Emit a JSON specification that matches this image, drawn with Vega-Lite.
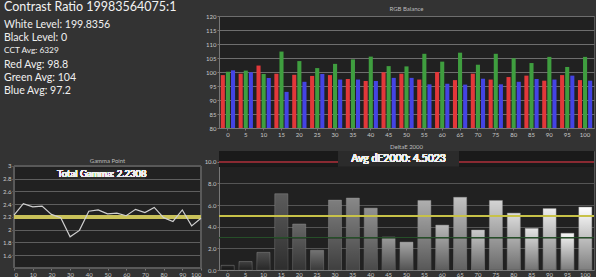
{
  "$schema": "https://vega.github.io/schema/vega-lite/v6.json",
  "background": "#333333",
  "padding": {"left": 2, "top": 0, "right": 0, "bottom": 0},
  "config": {
    "font": "Lato",
    "view": {"fill": "#212121", "stroke": "#555555"},
    "axis": {"labelFontSize": 6, "labelColor": "#c8c8c8", "domainColor": "#777777", "tickColor": "#777777", "gridColor": "#5e5e5e", "tickSize": 2, "labelPadding": 1, "labelOverlap": false},
    "title": {"fontSize": 6, "color": "#bbbbbb", "fontWeight": "normal", "offset": 2}
  },
  "bounds": "flush",
  "columns": 2,
  "spacing": {"row": 23, "column": 18},
  "concat": [
    {
      "width": 187,
      "height": 112,
      "view": {"fill": null, "stroke": null},
      "title": {"text": "Contrast Ratio 19983564075:1", "anchor": "start", "frame": "group", "dx": -10, "fontSize": 12.5, "color": "#f2f2f2", "offset": 3},
      "data": {"values": [
        {"line": 2, "label": "White Level: 199.8356"},
        {"line": 3, "label": "Black Level: 0"},
        {"line": 4, "label": "CCT Avg: 6329"},
        {"line": 5, "label": "Red Avg: 98.8"},
        {"line": 6, "label": "Green Avg: 104"},
        {"line": 7, "label": "Blue Avg: 97.2"}
      ]},
      "mark": {"type": "text", "align": "left", "baseline": "middle", "color": "#f0f0f0", "dx": -10},
      "encoding": {
        "x": {"datum": 0, "scale": {"domain": [0, 1]}, "axis": null},
        "y": {"field": "line", "type": "quantitative", "scale": {"domain": [1.32, 9.8], "reverse": true, "zero": false, "nice": false}, "axis": null},
        "text": {"field": "label"},
        "size": {"condition": {"test": "datum.line == 4", "value": 8.3}, "value": 10.6}
      }
    },
    {
      "width": 375,
      "height": 112,
      "title": {"text": "RGB Balance", "offset": 1},
      "data": {"values": [
        {"level": 0, "channel": "Red", "value": 98.9}, {"level": 0, "channel": "Green", "value": 100.1}, {"level": 0, "channel": "Blue", "value": 100.6},
        {"level": 5, "channel": "Red", "value": 99.4}, {"level": 5, "channel": "Green", "value": 100.5}, {"level": 5, "channel": "Blue", "value": 99.9},
        {"level": 10, "channel": "Red", "value": 102.3}, {"level": 10, "channel": "Green", "value": 99.3}, {"level": 10, "channel": "Blue", "value": 97.9},
        {"level": 15, "channel": "Red", "value": 99.4}, {"level": 15, "channel": "Green", "value": 107.3}, {"level": 15, "channel": "Blue", "value": 92.9},
        {"level": 20, "channel": "Red", "value": 99.0}, {"level": 20, "channel": "Green", "value": 103.9}, {"level": 20, "channel": "Blue", "value": 96.5},
        {"level": 25, "channel": "Red", "value": 98.6}, {"level": 25, "channel": "Green", "value": 101.4}, {"level": 25, "channel": "Blue", "value": 99.3},
        {"level": 30, "channel": "Red", "value": 98.9}, {"level": 30, "channel": "Green", "value": 102.9}, {"level": 30, "channel": "Blue", "value": 97.3},
        {"level": 35, "channel": "Red", "value": 97.5}, {"level": 35, "channel": "Green", "value": 104.5}, {"level": 35, "channel": "Blue", "value": 97.3},
        {"level": 40, "channel": "Red", "value": 96.8}, {"level": 40, "channel": "Green", "value": 105.5}, {"level": 40, "channel": "Blue", "value": 96.8},
        {"level": 45, "channel": "Red", "value": 99.9}, {"level": 45, "channel": "Green", "value": 102.1}, {"level": 45, "channel": "Blue", "value": 97.9},
        {"level": 50, "channel": "Red", "value": 99.4}, {"level": 50, "channel": "Green", "value": 102.0}, {"level": 50, "channel": "Blue", "value": 97.9},
        {"level": 55, "channel": "Red", "value": 97.3}, {"level": 55, "channel": "Green", "value": 106.5}, {"level": 55, "channel": "Blue", "value": 95.6},
        {"level": 60, "channel": "Red", "value": 100.0}, {"level": 60, "channel": "Green", "value": 103.7}, {"level": 60, "channel": "Blue", "value": 95.8},
        {"level": 65, "channel": "Red", "value": 97.1}, {"level": 65, "channel": "Green", "value": 106.9}, {"level": 65, "channel": "Blue", "value": 95.5},
        {"level": 70, "channel": "Red", "value": 99.4}, {"level": 70, "channel": "Green", "value": 102.6}, {"level": 70, "channel": "Blue", "value": 97.6},
        {"level": 75, "channel": "Red", "value": 97.3}, {"level": 75, "channel": "Green", "value": 106.5}, {"level": 75, "channel": "Blue", "value": 95.6},
        {"level": 80, "channel": "Red", "value": 98.2}, {"level": 80, "channel": "Green", "value": 104.9}, {"level": 80, "channel": "Blue", "value": 96.5},
        {"level": 85, "channel": "Red", "value": 98.7}, {"level": 85, "channel": "Green", "value": 103.2}, {"level": 85, "channel": "Blue", "value": 97.5},
        {"level": 90, "channel": "Red", "value": 96.9}, {"level": 90, "channel": "Green", "value": 105.4}, {"level": 90, "channel": "Blue", "value": 97.3},
        {"level": 95, "channel": "Red", "value": 98.9}, {"level": 95, "channel": "Green", "value": 101.8}, {"level": 95, "channel": "Blue", "value": 98.7},
        {"level": 100, "channel": "Red", "value": 97.1}, {"level": 100, "channel": "Green", "value": 105.4}, {"level": 100, "channel": "Blue", "value": 96.9}
      ]},
      "mark": {"type": "bar"},
      "encoding": {
        "x": {"field": "level", "type": "ordinal", "scale": {"paddingInner": 0.2, "paddingOuter": 0.1}, "axis": {"labelAngle": 0, "title": null}},
        "xOffset": {"field": "channel", "sort": ["Red", "Green", "Blue"], "scale": {"paddingInner": 0.2}},
        "y": {"field": "value", "type": "quantitative", "scale": {"domain": [80, 120], "zero": false, "nice": false}, "axis": {"values": [80, 85, 90, 95, 100, 105, 110, 115, 120], "title": null, "grid": true, "gridColor": "#6e6e6e"}},
        "y2": {"datum": 80},
        "color": {"field": "channel", "scale": {"domain": ["Red", "Green", "Blue"], "range": ["#e2383a", "#3f9e3f", "#4444e4"]}, "legend": null}
      }
    },
    {
      "width": 187,
      "height": 117,
      "view": {"fill": "#212121", "stroke": null},
      "title": {"text": "Gamma Point", "offset": -13},
      "data": {"values": [
        {"level": 0, "gamma": 2.23}, {"level": 5, "gamma": 2.41}, {"level": 10, "gamma": 2.36},
        {"level": 15, "gamma": 2.37}, {"level": 20, "gamma": 2.24}, {"level": 25, "gamma": 2.19},
        {"level": 30, "gamma": 1.89}, {"level": 35, "gamma": 1.99}, {"level": 40, "gamma": 2.29},
        {"level": 45, "gamma": 2.31}, {"level": 50, "gamma": 2.25}, {"level": 55, "gamma": 2.26},
        {"level": 60, "gamma": 2.22}, {"level": 65, "gamma": 2.32}, {"level": 70, "gamma": 2.27},
        {"level": 75, "gamma": 2.35}, {"level": 80, "gamma": 2.19}, {"level": 85, "gamma": 2.13},
        {"level": 90, "gamma": 2.31}, {"level": 95, "gamma": 2.06}, {"level": 100, "gamma": 2.18}
      ]},
      "layer": [
        {
          "mark": {"type": "line", "color": "#d0d0d0", "strokeWidth": 1.2, "opacity": 0},
          "encoding": {
            "x": {"field": "level", "type": "quantitative", "scale": {"domain": [0, 100], "nice": false, "zero": false}, "axis": {"values": [0, 10, 20, 30, 40, 50, 60, 70, 80, 90, 100], "tickCount": 30, "title": null, "grid": false}},
            "y": {"field": "gamma", "type": "quantitative", "scale": {"domain": [1.4, 3.235], "nice": false, "zero": false}, "axis": {"values": [1.6, 1.8, 2, 2.2, 2.4, 2.6, 2.8, 3], "tickCount": 30, "format": "~g", "title": null, "grid": true, "domain": false}}
          }
        },
        {
          "mark": {"type": "rect", "color": "#333333"},
          "encoding": {"y": {"datum": 3.235}, "y2": {"datum": 3}}
        },
        {
          "mark": {"type": "rect", "fill": null, "stroke": "#5a5a5a", "strokeWidth": 1},
          "encoding": {"x": {"datum": 0}, "x2": {"datum": 100}, "y": {"datum": 1.4}, "y2": {"datum": 3}}
        },
        {
          "mark": {"type": "rect", "color": "#2b2b2b"},
          "encoding": {"x": {"datum": 24}, "x2": {"datum": 70}, "y": {"datum": 2.94}, "y2": {"datum": 2.8}}
        },
        {
          "mark": {"type": "rule", "color": "#c9c25a", "strokeWidth": 3},
          "encoding": {"x": {"datum": 0}, "x2": {"datum": 100}, "y": {"datum": 2.2}}
        },
        {
          "mark": {"type": "line", "color": "#d0d0d0", "strokeWidth": 1.2},
          "encoding": {
            "x": {"field": "level", "type": "quantitative"},
            "y": {"field": "gamma", "type": "quantitative"}
          }
        },
        {
          "mark": {"type": "text", "color": "#f0f0f0", "fontSize": 9.5},
          "encoding": {"x": {"datum": 47}, "y": {"datum": 2.87}, "text": {"value": "Total Gamma: 2.2308"}}
        }
      ]
    },
    {
      "width": 375,
      "height": 119,
      "title": {"text": "DeltaE 2000", "offset": 1},
      "data": {"values": [
        {"level": 0, "de": 0.43}, {"level": 5, "de": 0.78}, {"level": 10, "de": 1.63},
        {"level": 15, "de": 7.05}, {"level": 20, "de": 4.25}, {"level": 25, "de": 1.82},
        {"level": 30, "de": 6.46}, {"level": 35, "de": 6.65}, {"level": 40, "de": 5.72},
        {"level": 45, "de": 3.05}, {"level": 50, "de": 2.58}, {"level": 55, "de": 6.43},
        {"level": 60, "de": 4.15}, {"level": 65, "de": 6.72}, {"level": 70, "de": 3.7},
        {"level": 75, "de": 6.43}, {"level": 80, "de": 5.26}, {"level": 85, "de": 3.85},
        {"level": 90, "de": 5.68}, {"level": 95, "de": 3.4}, {"level": 100, "de": 5.82}
      ]},
      "resolve": {"scale": {"x": "independent"}},
      "layer": [
        {
          "mark": {"type": "bar", "opacity": 0},
          "encoding": {
            "x": {"field": "level", "type": "ordinal", "scale": {"paddingInner": 0.27, "paddingOuter": 0.12}, "axis": {"labelAngle": 0, "title": null, "labelPadding": 0, "tickSize": 1}},
            "y": {"field": "de", "type": "quantitative", "scale": {"domain": [0, 11], "nice": false}, "axis": {"values": [0, 2, 4, 6, 8, 10], "tickCount": 30, "title": null, "grid": true, "gridColor": "#555555"}}
          }
        },
        {
          "mark": {"type": "rect", "color": "#1a1a1a"},
          "encoding": {"y": {"datum": 11}, "y2": {"datum": 9.6}}
        },
        {
          "mark": {"type": "rule", "color": "#8a2b33", "strokeWidth": 1.5},
          "encoding": {"y": {"datum": 10}}
        },
        {
          "mark": {"type": "rect", "color": "#2b2b2b"},
          "encoding": {"x": {"datum": 0.318, "scale": {"domain": [0, 1]}, "axis": null}, "x2": {"datum": 0.64}, "y": {"datum": 11}, "y2": {"datum": 9.6}}
        },
        {
          "mark": {"type": "text", "color": "#f0f0f0", "fontSize": 10.5},
          "encoding": {"x": {"datum": 0.479, "scale": {"domain": [0, 1]}, "axis": null}, "y": {"datum": 10.3}, "text": {"value": "Avg dE2000: 4.5023"}}
        },
        {
          "mark": {"type": "bar", "stroke": "#9a9a9a", "strokeOpacity": 0.5, "strokeWidth": 0.8},
          "encoding": {
            "x": {"field": "level", "type": "ordinal", "scale": {"paddingInner": 0.27, "paddingOuter": 0.12}, "axis": null},
            "y": {"field": "de", "type": "quantitative"},
            "color": {"field": "level", "type": "quantitative", "scale": {"type": "pow", "exponent": 0.7, "domain": [0, 100], "range": ["#2a2a2a", "#ffffff"]}, "legend": null}
          }
        },
        {
          "mark": {"type": "bar", "color": {"gradient": "linear", "x1": 0, "y1": 0, "x2": 0, "y2": 1, "stops": [{"offset": 0, "color": "rgba(0,0,0,0)"}, {"offset": 1, "color": "rgba(0,0,0,0.5)"}]}},
          "encoding": {
            "x": {"field": "level", "type": "ordinal", "scale": {"paddingInner": 0.27, "paddingOuter": 0.12}, "axis": null},
            "y": {"field": "de", "type": "quantitative"}
          }
        },
        {
          "mark": {"type": "rule", "color": "#c8c24a", "strokeWidth": 1},
          "encoding": {"y": {"datum": 5}}
        },
        {
          "mark": {"type": "rule", "color": "#27502a", "strokeWidth": 1},
          "encoding": {"y": {"datum": 3}}
        }
      ]
    }
  ]
}
